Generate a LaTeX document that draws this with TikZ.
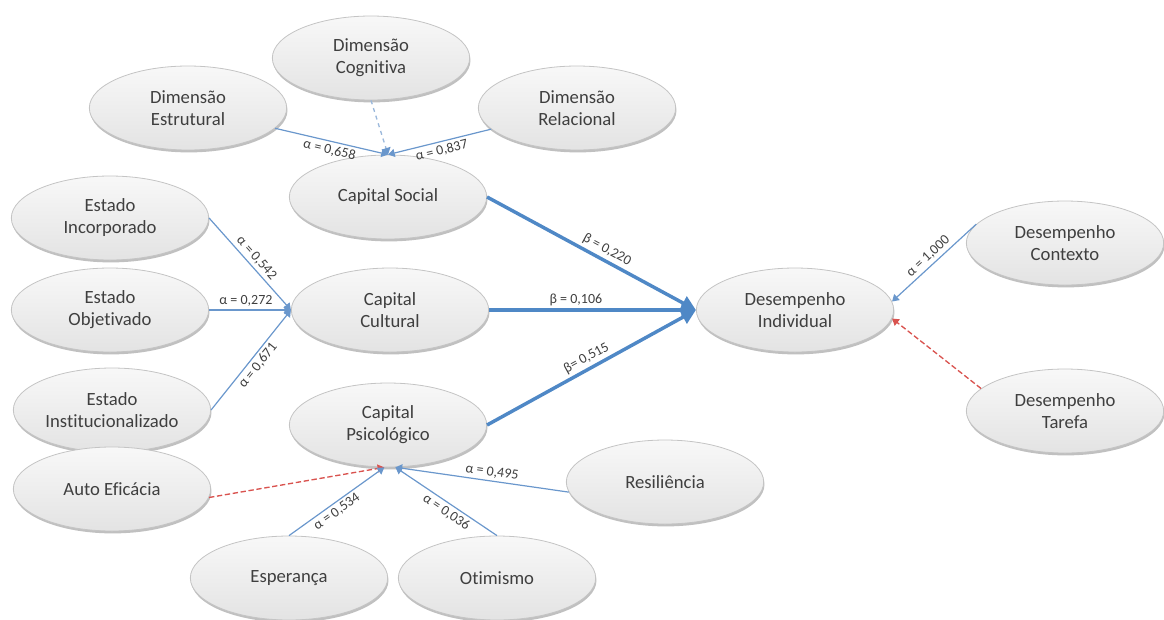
\documentclass[tikz,border=0pt]{standalone}
\usepackage{fontspec}
\setmainfont{Carlito}[Ligatures=NoCommon]
\usetikzlibrary{arrows.meta,shapes.geometric,shadows}
\definecolor{txt}{HTML}{3F3F3F}
\definecolor{ln}{HTML}{6A97CC}
\definecolor{lnthick}{HTML}{4F88C6}
\definecolor{lndash}{HTML}{9BB8DB}
\definecolor{rd}{HTML}{D9534F}
\definecolor{ebord}{HTML}{C4C4C4}
\definecolor{etop}{HTML}{F8F8F8}
\definecolor{ebot}{HTML}{E3E3E3}
\begin{document}
\begin{tikzpicture}[x=0.75pt,y=-0.75pt,
  ell/.style={ellipse, draw=ebord, line width=0.6pt, top color=etop, bottom color=ebot,
    minimum width=148pt, minimum height=63pt, inner sep=0pt, align=center, text=txt,
    font=\fontsize{14}{16.5}\selectfont,
    drop shadow={shadow xshift=0.6pt, shadow yshift=-1.8pt, fill=black!55, opacity=0.45}},
  ind/.style={draw=ln, line width=0.9pt, -{Triangle[length=5pt,width=6pt]}},
  inddash/.style={draw=lndash, dashed, line width=1pt, -{Triangle[length=5pt,width=7pt,color=ln]}},
  indred/.style={draw=rd, dashed, dash pattern=on 4pt off 2pt, line width=1pt, -{Triangle[length=5pt,width=6pt]}},
  beta/.style={draw=lnthick, line width=2.6pt, -{Triangle[length=11pt,width=11pt]}},
  lab/.style={font=\fontsize{10.5}{12}\selectfont, text=txt, sloped, inner sep=2pt}]
\useasboundingbox (0,0) rectangle (1164,619);

% nodes
\node[ell] (dc) at (371,58) {Dimensão\\Cognitiva};
\node[ell] (de) at (188,108) {Dimensão\\Estrutural};
\node[ell] (dr) at (577,108) {Dimensão\\Relacional};
\node[ell] (cs) at (388,197) {Capital Social};
\node[ell] (ei) at (110,218) {Estado\\Incorporado};
\node[ell] (eo) at (110,310) {Estado\\Objetivado};
\node[ell] (es) at (112,410) {Estado\\Institucionalizado};
\node[ell] (cc) at (390,310) {Capital\\Cultural};
\node[ell] (cp) at (388,425) {Capital\\Psicológico};
\node[ell] (di) at (795,310) {Desempenho\\Individual};
\node[ell] (dx) at (1065,243) {Desempenho\\Contexto};
\node[ell] (dt) at (1065,411) {Desempenho\\Tarefa};
\node[ell] (ae) at (112,489) {Auto Eficácia};
\node[ell] (esp) at (289,578) {Esperança};
\node[ell] (ot) at (497,578) {Otimismo};
\node[ell] (re) at (665,482) {Resiliência};

% Capital Social indicators
\draw[inddash] (dc.south) -- (cs.north);
\draw[ind] (de) -- node[lab,below] {α = 0,658} (cs.north);
\draw[ind] (dr) -- node[lab,below] {α = 0,837} (cs.north);

% Capital Cultural indicators
\draw[ind] (ei.east) -- node[lab,above] {α = 0,542} (cc.west);
\draw[ind] (eo.east) -- node[lab,above,pos=0.45] {α = 0,272} (cc.west);
\draw[ind] (es.east) -- node[lab,below] {α = 0,671} (cc.west);

% Capital Psicologico indicators
\draw[indred] (ae.-5) -- (cp.-95);
\draw[ind] (esp.north) -- node[lab,below,pos=0.45] {α = 0,534} (cp.-95);
\draw[ind] (ot.north) -- node[lab,below,pos=0.45] {α = 0,036} (cp.-80);
\draw[ind] (re.186) -- node[lab,above,pos=0.45] {α = 0,495} (cp.-80);

% structural paths
\draw[beta] (cs.east) -- node[lab,above,pos=0.55] {β = 0,220} (di.west);
\draw[beta] (cc.east) -- node[lab,above,pos=0.42] {β = 0,106} (di.west);
\draw[beta] (cp.east) -- node[lab,above,pos=0.5] {β= 0,515} (di.west);

% Desempenho indicators
\draw[ind] (dx.168) -- node[lab,above] {α = 1,000} (di.5);
\draw[indred] (dt.165) -- (di.-5);
\end{tikzpicture}
\end{document}
